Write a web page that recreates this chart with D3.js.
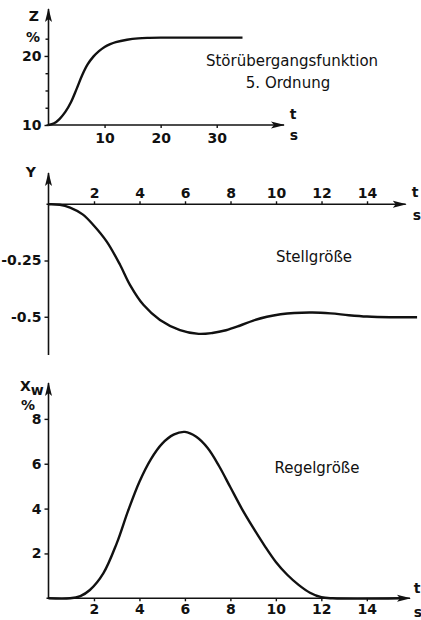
<!DOCTYPE html>
<html>
<head>
<meta charset="utf-8">
<script src="https://cdn.jsdelivr.net/npm/d3@7"></script>
<style>
    body { margin: 0; background: #fff; }
    svg { display: block; font-family: "DejaVu Sans", sans-serif; }
    .axis-line { stroke: #111; stroke-width: 1.6; fill: none; }
    .curve { stroke: #111; stroke-width: 2.4; fill: none; }
    .tick line { stroke: #111; stroke-width: 1.4; }
</style>
</head>
<body>
<script>

// Störübergangsfunktion (top)
var zTime   = [0, 1, 2, 3, 4, 5, 6, 7, 8, 9, 10, 11, 12, 14, 16, 18, 20, 34.6];
var zValues = [10, 10.25, 10.9, 11.9, 13.3, 15.2, 17.2, 18.8, 19.9, 20.7, 21.3, 21.7, 22.0, 22.35, 22.55, 22.62, 22.65, 22.65];
var zTicksX = [10, 20, 30];
var zTicksY = [10, 20];
var zMinorY = [12.5, 15, 17.5, 22.5];

// Stellgröße (middle)
var yTime   = [0, 0.5, 0.95, 1.5, 1.97, 2.56, 3.15, 3.58, 4.17, 4.9, 5.78, 6.6, 7.2, 7.8, 8.4, 9, 9.6, 10.2, 10.8, 11.6, 12.4, 13.2, 14, 15, 16.2];
var yValues = [0, -0.002, -0.015, -0.045, -0.092, -0.166, -0.27, -0.358, -0.447, -0.514, -0.559, -0.576, -0.572, -0.56, -0.54, -0.517, -0.5, -0.489, -0.483, -0.481, -0.485, -0.493, -0.499, -0.502, -0.502];
var yTicksX = [2, 4, 6, 8, 10, 12, 14];
var yTicksY = [-0.25, -0.5];

// Regelgröße (bottom)
var xTime   = [0, 0.95, 1.4, 1.82, 2.41, 3, 3.5, 4, 4.5, 5, 5.5, 6, 6.5, 7, 7.5, 8, 8.5, 9, 9.5, 10, 10.5, 11, 11.5, 12, 12.5, 15.5];
var xValues = [0, 0, 0.1, 0.37, 1.11, 2.45, 3.9, 5.2, 6.2, 6.9, 7.3, 7.42, 7.2, 6.7, 5.9, 4.95, 4.0, 3.15, 2.35, 1.62, 1.05, 0.6, 0.25, 0.05, 0, 0];
var xTicksX = [2, 4, 6, 8, 10, 12, 14];
var xTicksY = [2, 4, 6, 8];

var width = 421, height = 620;

var svg = d3.select("body").append("svg")
    .attr("width", width)
    .attr("height", height);

svg.append("defs").html(
    '<marker id="arrow" viewBox="0 -5 14 10" refX="13" refY="0" markerUnits="userSpaceOnUse" markerWidth="14" markerHeight="10" orient="auto">' +
    '<path d="M0,-3.5 L14,0 L0,3.5 L3,0 Z" fill="#111"></path></marker>');

function zip(t, v) {
    return t.map(function(d, i) { return [d, v[i]]; });
}

// bold axis lettering
function lbl(sel) {
    return sel
        .style("font-family", "'DejaVu Sans', sans-serif")
        .style("font-size", "14px")
        .style("font-weight", "bold")
        .style("fill", "#111");
}

function title(g, x, y, s) {
    return g.append("text")
        .attr("x", x).attr("y", y)
        .attr("text-anchor", "middle")
        .style("font-size", "15px")
        .style("fill", "#111")
        .text(s);
}

function label(g, x, y, s, anchor) {
    return g.append("text")
        .attr("x", x).attr("y", y)
        .attr("text-anchor", anchor || "middle")
        .call(lbl)
        .text(s);
}

function drawPanel(o) {
    var g = svg.append("g");

    var x = d3.scaleLinear().domain(o.xDomain).range(o.xRange);
    var y = d3.scaleLinear().domain(o.yDomain).range(o.yRange);

    var xAxis = (o.xTop ? d3.axisTop(x) : d3.axisBottom(x))
        .tickValues(o.xTicks)
        .tickSizeOuter(0)
        .tickSizeInner(3)
        .tickPadding(o.xPad);

    var yAxis = d3.axisLeft(y)
        .tickValues(o.yTicks)
        .tickSizeOuter(0)
        .tickSizeInner(4)
        .tickPadding(3)
        .tickFormat(o.yFormat || d3.format("d"));

    var gx = g.append("g")
        .attr("transform", "translate(0," + y(o.xAt) + ")")
        .call(xAxis);
    gx.select(".domain").remove();
    gx.selectAll("text").call(lbl);

    var gy = g.append("g")
        .attr("transform", "translate(" + x(0) + ",0)")
        .call(yAxis);
    gy.select(".domain").remove();
    gy.selectAll("text").call(lbl);

    if (o.yMinor) {
        g.append("g")
            .attr("transform", "translate(" + x(0) + ",0)")
            .call(d3.axisLeft(y).tickValues(o.yMinor).tickSizeOuter(0).tickSizeInner(3).tickFormat(""))
            .select(".domain").remove();
    }

    // axes with arrows
    g.append("line")
        .attr("class", "axis-line")
        .attr("x1", x(0) - 2).attr("x2", o.xRange[1])
        .attr("y1", y(o.xAt)).attr("y2", y(o.xAt))
        .attr("marker-end", "url(#arrow)");

    g.append("line")
        .attr("class", "axis-line")
        .attr("x1", x(0)).attr("x2", x(0))
        .attr("y1", o.yRange[0]).attr("y2", o.yRange[1])
        .attr("marker-end", "url(#arrow)");

    var line = d3.line()
        .x(function(d) { return x(d[0]); })
        .y(function(d) { return y(d[1]); })
        .curve(d3.curveCatmullRom.alpha(0.5));

    g.append("path")
        .datum(zip(o.time, o.values))
        .attr("class", "curve")
        .attr("d", line);

    return g;
}

// top
var g1 = drawPanel({
    time: zTime, values: zValues,
    xDomain: [0, 42], xRange: [48.5, 284],
    yDomain: [10, 26.8], yRange: [125, 9],
    xTicks: zTicksX, yTicks: zTicksY, yMinor: zMinorY,
    xAt: 10, xTop: false, xPad: 5
});
label(g1, 39, 21, "Z", "end");
label(g1, 40, 42, "%", "end");
label(g1, 293, 119, "t");
label(g1, 294, 140, "s");
title(g1, 292, 66, "Störübergangsfunktion");
title(g1, 288, 87.5, "5. Ordnung");

// middle
var g2 = drawPanel({
    time: yTime, values: yValues,
    xDomain: [0, 15.7], xRange: [48.5, 405.7],
    yDomain: [-0.67, 0.139], yRange: [355, 173],
    xTicks: yTicksX, yTicks: yTicksY,
    yFormat: function(d) { return String(d); },
    xAt: 0, xTop: true, xPad: 3
});
label(g2, 36, 177, "Y", "end");
label(g2, 415, 197, "t");
label(g2, 417, 220, "s");
title(g2, 314, 262, "Stellgröße");

// bottom
var g3 = drawPanel({
    time: xTime, values: xValues,
    xDomain: [0, 15.9], xRange: [48.5, 410],
    yDomain: [0, 9.6], yRange: [598.3, 383],
    xTicks: xTicksX, yTicks: xTicksY,
    xAt: 0, xTop: false, xPad: 3
});
var xw = label(g3, 20, 391, "", "start");
xw.append("tspan").text("X");
xw.append("tspan").attr("dy", 4).text("w");
label(g3, 28, 410, "%");
label(g3, 417, 593, "t");
label(g3, 418, 617, "s");
title(g3, 317, 473, "Regelgröße");

</script>
</body>
</html>
